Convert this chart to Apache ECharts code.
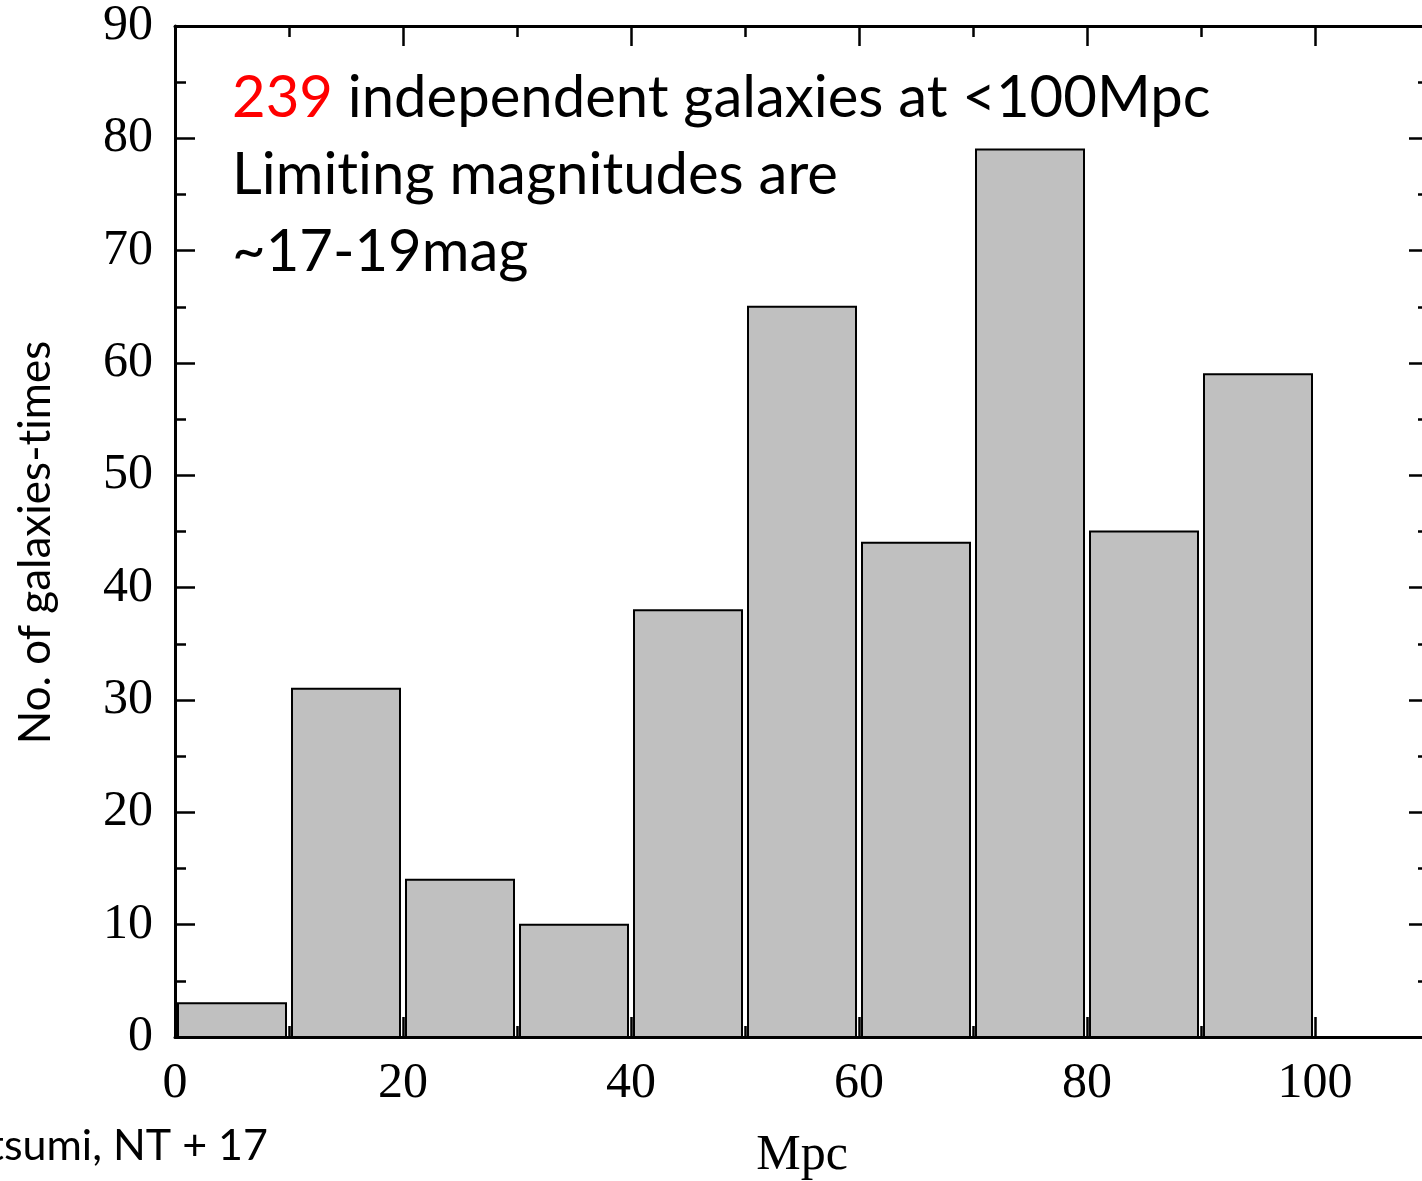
<!DOCTYPE html>
<html><head><meta charset="utf-8">
<script src="https://cdn.jsdelivr.net/npm/echarts@6/dist/echarts.min.js"></script>
<style>html,body{margin:0;padding:0;background:#fff}#c{width:1422px;height:1181px}</style>
</head><body><div id="c"></div>
<script>
// ---- data ----
const binStarts = [0, 10, 20, 30, 40, 50, 60, 70, 80, 90];
const binEnds   = [10, 20, 30, 40, 50, 60, 70, 80, 90, 100];
const counts    = [3, 31, 14, 10, 38, 65, 44, 79, 45, 59];
const xTickLabels = [0, 20, 40, 60, 80, 100];
const yTickLabels = [0, 10, 20, 30, 40, 50, 60, 70, 80, 90];
const xTitle = 'Mpc';
const yTitle = 'No. of galaxies-times';
const noteCount = '239';
const noteLine1 = ' independent galaxies at <100Mpc';
const noteLine2 = 'Limiting magnitudes are';
const noteLine3 = '~17-19mag';
const citation = 'Utsumi, NT + 17';

// ---- chart ----
const chart = echarts.init(document.getElementById('c'), null, {renderer: 'canvas'});
const serif = 'Liberation Serif';
const sans = 'Lato';
const black = '#000';
const lineW = 3;

// split "ti" into two rich tokens so the font does not draw a ligature
function noLig(s) { return s.replace(/ti/g, 't{z|i}'); }

function xAxisDef(pos, interval, tickLen, withLine, withLabel) {
  const a = {
    type: 'value', gridIndex: 0, position: pos, min: 0, max: 110, interval: interval,
    axisLine: {show: withLine, onZero: false, lineStyle: {color: black, width: lineW}},
    axisTick: {show: true, inside: true, length: tickLen, lineStyle: {color: black, width: 2.5}},
    axisLabel: {show: withLabel},
    splitLine: {show: false}
  };
  if (withLabel) {
    a.axisLabel = {
      show: true, margin: 22, color: black, fontFamily: serif, fontSize: 50,
      showMaxLabel: false,
      formatter: v => xTickLabels.indexOf(v) >= 0 ? String(v) : ''
    };
    a.name = xTitle;
    a.nameLocation = 'middle';
    a.nameGap = 94;
    a.nameTextStyle = {color: black, fontFamily: serif, fontSize: 50};
  }
  return a;
}
function yAxisDef(pos, withLabel) {
  const a = {
    type: 'value', gridIndex: 0, position: pos, min: 0, max: 90, interval: 10,
    axisLine: {show: true, onZero: false, lineStyle: {color: black, width: lineW}},
    axisTick: {show: true, inside: true, length: 20, lineStyle: {color: black, width: 2.5}},
    minorTick: {show: true, splitNumber: 2, length: 11, lineStyle: {color: black, width: 2.5}},
    axisLabel: {show: withLabel},
    splitLine: {show: false}, minorSplitLine: {show: false}
  };
  if (withLabel) {
    a.axisLabel = {
      show: true, margin: 22, color: black, fontFamily: serif, fontSize: 50,
      formatter: v => yTickLabels.indexOf(v) >= 0 ? String(v) : ''
    };
    a.name = noLig(yTitle);
    a.nameLocation = 'middle';
    a.nameGap = 117;
    a.nameTextStyle = {
      color: black, fontFamily: sans, fontSize: 44, padding: [0, 22, 0, 0],
      rich: {z: {color: black, fontFamily: sans, fontSize: 44}}
    };
  }
  return a;
}

const barData = binStarts.map((s, i) => [s, binEnds[i], counts[i]]);

chart.setOption({
  animation: false,
  backgroundColor: '#fff',
  grid: {left: 175, top: 26, width: 1254, bottom: 144, containLabel: false, outerBoundsMode: 'none'},
  xAxis: [
    xAxisDef('bottom', 20, 20, true, true),
    xAxisDef('bottom', 10, 11, false, false),
    xAxisDef('top', 20, 20, true, false),
    xAxisDef('top', 10, 11, false, false)
  ],
  yAxis: [
    yAxisDef('left', true),
    yAxisDef('right', false)
  ],
  series: [{
    type: 'custom',
    xAxisIndex: 0, yAxisIndex: 0,
    data: barData,
    encode: {x: [0, 1], y: 2},
    renderItem: function (params, api) {
      const p0 = api.coord([api.value(0), 0]);
      const p1 = api.coord([api.value(1), api.value(2)]);
      const inset = 3;
      return {
        type: 'rect',
        shape: {x: p0[0] + inset, y: p1[1], width: p1[0] - p0[0] - 2 * inset, height: p0[1] - p1[1]},
        style: {fill: '#c0c0c0', stroke: black, lineWidth: 2}
      };
    }
  }],
  graphic: [
    {
      type: 'text', left: 232, top: 60, z: 10,
      style: {
        text: '{r|' + noteCount + '}' + noteLine1 + '\n' + noLig(noteLine2) + '\n' + noteLine3,
        fill: black, fontFamily: sans, fontSize: 58, lineHeight: 77,
        rich: {
          r: {fill: '#ff0000', fontFamily: sans, fontSize: 58, lineHeight: 77},
          z: {fill: black, fontFamily: sans, fontSize: 58, lineHeight: 77}
        }
      }
    },
    {
      type: 'text', x: 268, y: 1146, z: 10,
      style: {text: citation, fill: black, fontFamily: sans, fontSize: 43, align: 'right', verticalAlign: 'middle'}
    }
  ]
});
</script>
</body></html>
